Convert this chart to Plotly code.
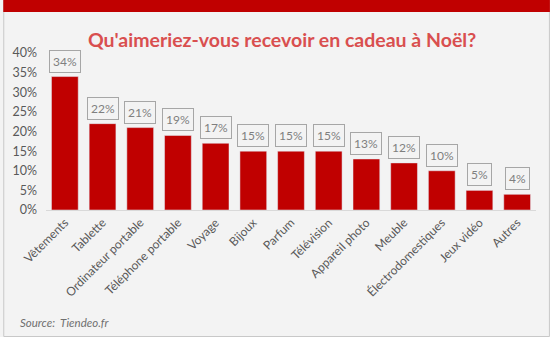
import plotly.graph_objects as go

categories = ["Vêtements", "Tablette", "Ordinateur portable", "Téléphone portable", "Voyage",
              "Bijoux", "Parfum", "Télévision", "Appareil photo", "Meuble",
              "Électrodomestiques", "Jeux vidéo", "Autres"]
values = [34, 22, 21, 19, 17, 15, 15, 15, 13, 12, 10, 5, 4]
tick_vals = [0, 5, 10, 15, 20, 25, 30, 35, 40]
tick_text = [f"{v}%" for v in tick_vals]

W, H = 550, 337
ml, mr, mt, mb = 43, 14, 53, 127
pw, ph = W - ml - mr, H - mt - mb

def px_x(px):
    return (px - ml) / pw

def px_y(py):
    return (H - mb - py) / ph

FONT = "Lato"
fig = go.Figure(go.Bar(x=categories, y=values, marker_color="#c00000", width=0.71,
                       hoverinfo="skip"))

annotations = []
for c, v in zip(categories, values):
    annotations.append(dict(x=c, y=v, xref="x", yref="y", text=f"{v}%", showarrow=False,
                            yanchor="bottom", yshift=4, bordercolor="#a6a6a6", borderwidth=1,
                            borderpad=3, bgcolor="rgba(255,255,255,0)",
                            font=dict(family=FONT, size=12, color="#7f7f7f")))
annotations.append(dict(x=px_x(15), y=px_y(322), xref="paper", yref="paper", text="Source:  Tiendeo.fr",
                        showarrow=False, xanchor="left", yanchor="middle",
                        font=dict(family=FONT, size=11.5, color="#6f6f6f", style="italic")))

shapes = [
    dict(type="rect", xref="paper", yref="paper", x0=px_x(0.5), x1=px_x(549.5), y0=px_y(0.5), y1=px_y(336.5),
         line=dict(color="#c8c8c8", width=1), fillcolor="rgba(0,0,0,0)", layer="below"),
    dict(type="rect", xref="paper", yref="paper", x0=px_x(0), x1=px_x(550), y0=px_y(0), y1=px_y(12),
         line=dict(width=0), fillcolor="#c00000"),
]

fig.update_layout(
    width=W, height=H,
    margin=dict(l=ml, r=mr, t=mt, b=mb),
    paper_bgcolor="#f3f3f3", plot_bgcolor="rgba(0,0,0,0)",
    title=dict(text="Qu'aimeriez-vous recevoir en cadeau à Noël?", xref="container", yref="container",
               x=282 / W, y=1 - 40 / H, xanchor="center", yanchor="middle",
               font=dict(family=FONT, size=19.5, color="#d94f4f", weight="bold")),
    xaxis=dict(tickangle=-45, tickfont=dict(family=FONT, size=12, color="#595959"),
               showline=True, linecolor="#d9d9d9", linewidth=1, ticks="", showgrid=False,
               range=[-0.5, len(categories) - 0.5]),
    yaxis=dict(range=[0, 40], tickvals=tick_vals, ticktext=tick_text, showgrid=False,
               zeroline=False, tickfont=dict(family=FONT, size=12.5, color="#595959"), ticks="",
               ticklabelstandoff=8),
    annotations=annotations, shapes=shapes, showlegend=False, bargap=0.29,
)
fig.write_html("out.html")
